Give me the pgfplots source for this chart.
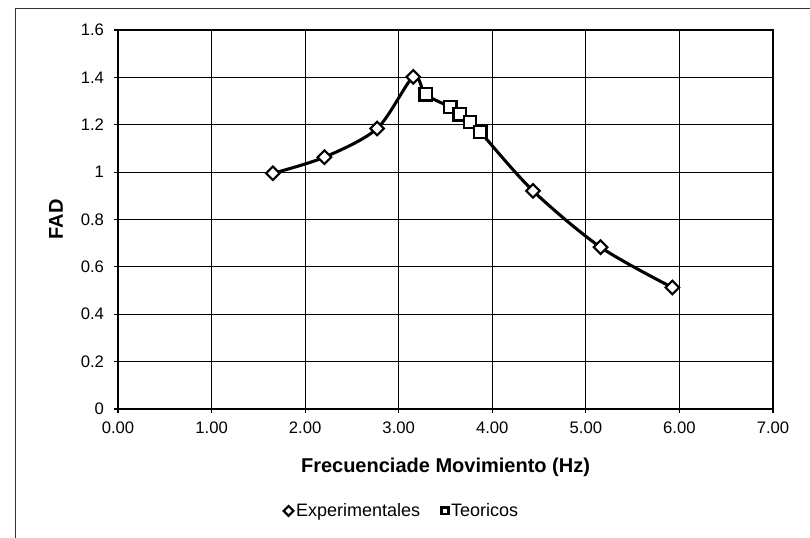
\documentclass[border=0pt]{standalone}
\usepackage{pgfplots}
\pgfplotsset{compat=1.18}
\usepackage{fontspec}
\setmainfont{Liberation Sans}

\begin{document}
\begin{tikzpicture}
\useasboundingbox (-88.5pt,-96.75pt) rectangle (519pt,306.75pt);
% outer chart frame (left and top edges visible)
\draw[line width=0.6pt, black!80] (-77pt,-110pt) -- (-77pt,300.75pt) -- (530pt,300.75pt);
\begin{axis}[
    at={(0,0)}, anchor=south west,
    scale only axis,
    width=491.25pt, height=284.25pt,
    xmin=0, xmax=7, ymin=0, ymax=1.6,
    xtick={0,1,...,7}, ytick={0,0.2,...,1.6},
    grid=major,
    major grid style={black, line width=0.8pt},
    axis line style={black, line width=1pt},
    tick align=center,
    tick pos=left,
    major tick length=6pt,
    tick style={black, line width=0.8pt},
    ticklabel style={font=\fontsize{12.5}{14}\selectfont},
    xticklabel style={yshift=-3pt},
    yticklabel style={xshift=-4pt, /pgf/number format/fixed},
    /pgf/number format/assume math mode=true,
    xticklabel={\pgfmathprintnumber[fixed, fixed zerofill, precision=2]{\tick}},
    xlabel={\textbf{Frecuenciade Movimiento (Hz)}},
    ylabel={\textbf{FAD}},
    label style={font=\fontsize{15}{17}\selectfont},
    xlabel style={at={(axis description cs:0.5,0)}, anchor=center, yshift=-44pt},
    ylabel style={at={(axis description cs:0,0.5)}, anchor=center, yshift=46.5pt},
    legend style={at={(0.434,-0.269)}, anchor=center, draw=none, fill=none,
        legend columns=-1, font=\fontsize{13.5}{15}\selectfont,
        /tikz/every even column/.append style={column sep=14pt}},
    legend cell align=left,
    legend image code/.code={\draw[mark size=2.6pt, line width=1pt, mark repeat=2, mark phase=2] plot coordinates {(0pt,0pt)(2pt,0pt)(4pt,0pt)};},
]
% smooth curve through all points
\addplot[black, line width=2.3pt, smooth, tension=0.5, forget plot] coordinates {
    (1.655,0.995) (2.206,1.063) (2.769,1.184) (3.155,1.402)
    (3.287,1.328) (3.552,1.274) (3.651,1.244) (3.762,1.211) (3.872,1.169)
    (4.435,0.921) (5.157,0.683) (5.924,0.513)
};
\addplot[only marks, mark=square*, mark size=3.6pt,
    mark options={rotate=45, fill=white, draw=black, line width=1.6pt}] coordinates {
    (1.655,0.995) (2.206,1.063) (2.769,1.184) (3.155,1.402)
    (4.435,0.921) (5.157,0.683) (5.924,0.513)
};
\addlegendentry{Experimentales}
\addplot[only marks, mark=square*, mark size=4.6pt,
    mark options={fill=white, draw=black, line width=1.6pt}] coordinates {
    (3.287,1.328) (3.552,1.274) (3.651,1.244) (3.762,1.211) (3.872,1.169)
};
\addlegendentry{Teoricos}
\end{axis}
\end{tikzpicture}
\end{document}
